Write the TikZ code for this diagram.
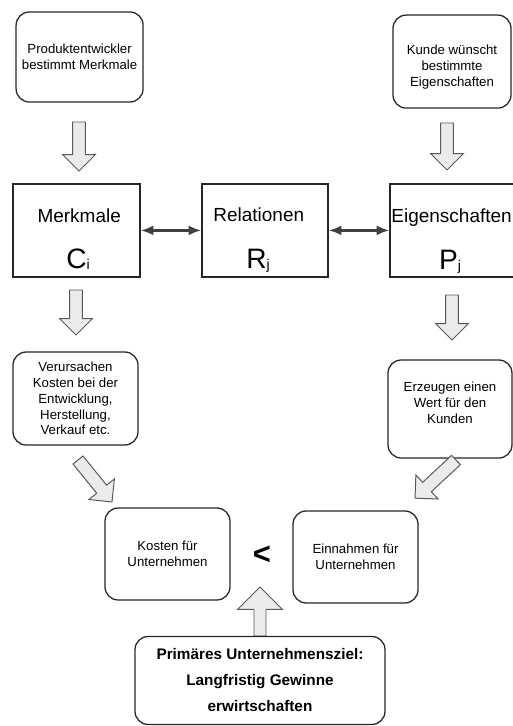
\documentclass[tikz,border=0pt]{standalone}
\usepackage{fontspec}
\setmainfont{Liberation Sans}
\usetikzlibrary{arrows.meta}

\tikzset{
	roundbox/.style={draw=black!85, line width=0.9pt, rounded corners=0.33cm, align=center, inner sep=0pt, font=\fontsize{9.4}{11.3}\selectfont},
	plainbox/.style={draw=black!85, line width=1pt, inner sep=0pt},
	blockarrow/.style={draw=black!65, fill=black!8, line width=0.7pt, line join=miter},
	link/.style={{Latex[length=9pt,width=7pt]}-{Latex[length=9pt,width=7pt]}, line width=1.6pt, black!75},
	midtext/.style={font=\fontsize{13.5}{16}\selectfont, anchor=base, inner sep=0pt},
}
% tail x, tail y, angle, length, half shaft, half head
\newcommand{\blockpfeil}[6]{%
	\draw[blockarrow, shift={(#1,#2)}, rotate=#3] (0,-#5) -- ({#4-#6},-#5) -- ({#4-#6},-#6) -- (#4,0) -- ({#4-#6},#6) -- ({#4-#6},#5) -- (0,#5) -- cycle;}
\newcommand{\symsub}[2]{{\fontsize{20}{24}\selectfont #1}\raisebox{-1pt}{\fontsize{10}{12}\selectfont #2}}

\begin{document}
\begin{tikzpicture}
				\useasboundingbox (0,0) rectangle (12.825,18.15);
				
				% Starting points
				\node[roundbox, minimum width=3.175cm, minimum height=2.25cm] (prod) at (1.99,16.725) {Produktentwickler\\bestimmt Merkmale};
				\node[roundbox, minimum width=2.95cm, minimum height=2.325cm] (kunde) at (11.3,16.61) {\rule{0pt}{15pt}Kunde wünscht\\bestimmte\\Eigenschaften};
				\blockpfeil{1.975}{15.1}{-90}{1.225}{0.16}{0.41}
				\blockpfeil{11.175}{15.075}{-90}{1.175}{0.16}{0.41}
				
				% Middle row
				\node[plainbox, minimum width=3.175cm, minimum height=2.325cm] (merk) at (1.9125,12.39) {};
				\node[plainbox, minimum width=3.15cm, minimum height=2.325cm] (rel) at (6.625,12.39) {};
				\node[plainbox, minimum width=3.15cm, minimum height=2.325cm] (eig) at (11.325,12.39) {};
				\node[midtext] (merkname) at (1.98,12.575) {Merkmale};
				\node[midtext] (relname) at (6.47,12.6) {Relationen};
				\node[midtext] (eigname) at (11.29,12.575) {Eigenschaften};
				\node[anchor=base, inner sep=0pt] (merksym) at (1.95,11.44) {\symsub{C}{i}};
				\node[anchor=base, inner sep=0pt] (relsym) at (6.45,11.44) {\symsub{R}{j}};
				\node[anchor=base, inner sep=0pt] (eigsym) at (11.25,11.42) {\symsub{P}{j}};
				\draw[link] (merk.east) -- (rel.west);
				\draw[link] (rel.east) -- (eig.west);
				
				% Consequences
				\blockpfeil{1.9}{10.9}{-90}{1.125}{0.16}{0.41}
				\blockpfeil{11.3}{10.775}{-90}{1.125}{0.16}{0.41}
				\node[roundbox, minimum width=3.125cm, minimum height=2.325cm] (verur) at (1.8875,8.1875) {Verursachen\\Kosten bei der\\Entwicklung,\\Herstellung,\\Verkauf etc.};
				\node[roundbox, minimum width=3.1cm, minimum height=2.45cm] (wert) at (11.25,7.925) {Erzeugen einen\\Wert für den\\Kunden\rule[-8.5pt]{0pt}{8.5pt}};
				\blockpfeil{1.95}{6.65}{-51}{1.35}{0.16}{0.41}
				\blockpfeil{11.4}{6.65}{-137}{1.4}{0.16}{0.41}
				
				% Comparison
				\node[roundbox, minimum width=3.125cm, minimum height=2.3cm] (kosten) at (4.1875,4.3) {Kosten für\\Unternehmen};
				\node[roundbox, minimum width=3.125cm, minimum height=2.3cm] (einn) at (8.8875,4.225) {Einnahmen für\\Unternehmen};
				\node[font=\bfseries\fontsize{22}{22}\selectfont, inner sep=0pt] (kleiner) at (6.55,4.275) {<};
				\blockpfeil{6.5}{2.25}{90}{1.225}{0.15}{0.56}
				
				% Goal
				\node[roundbox, minimum width=6.25cm, minimum height=2.2cm, font=\bfseries\fontsize{10.9}{18.5}\selectfont] (ziel) at (6.5,1.1375) {Primäres Unternehmensziel:\\Langfristig Gewinne\\erwirtschaften};
\end{tikzpicture}
\end{document}
